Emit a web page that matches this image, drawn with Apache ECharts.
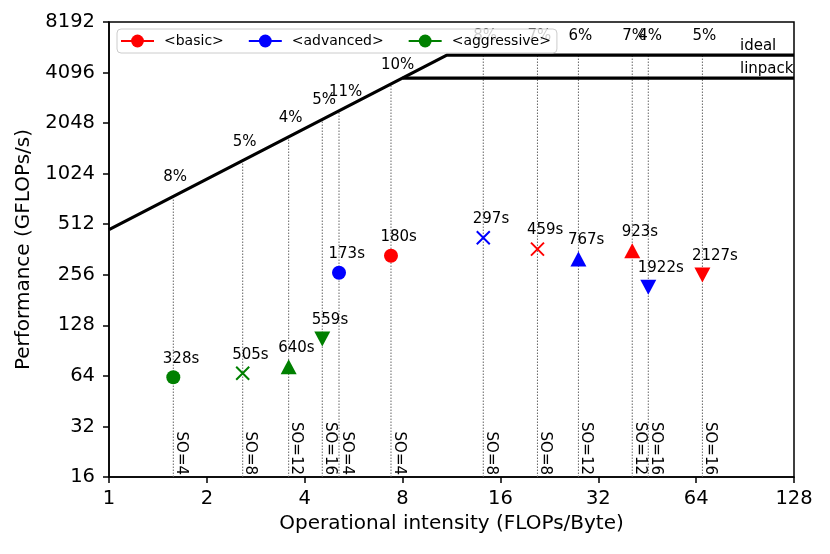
<!DOCTYPE html>
<html>
<head>
<meta charset="utf-8">
<script src="https://cdn.jsdelivr.net/npm/echarts@6/dist/echarts.min.js"></script>
<style>html,body{margin:0;padding:0;background:#fff;}#c{width:830px;height:554px;}</style>
</head>
<body>
<div id="c"></div>
<script>
// ---- data ----
const strategyNames = ['<basic>', '<advanced>', '<aggressive>'];
const strategyColors = ['#ff0000', '#0000ff', '#008000'];
const soLevels = [4, 8, 12, 16];
const soLabels = ['SO=4', 'SO=8', 'SO=12', 'SO=16'];

const basicOI = [7.37, 20.8, 40.7, 66.9];
const basicPerf = [332, 364, 356, 255];
const basicTime = ['180s', '459s', '923s', '2127s'];
const basicPct = ['10%', '7%', '7%', '5%'];

const advancedOI = [5.10, 14.17, 27.8, 45.6];
const advancedPerf = [263, 425, 318, 216];
const advancedTime = ['173s', '297s', '767s', '1922s'];
const advancedPct = ['11%', '8%', '6%', '4%'];

const aggressiveOI = [1.577, 2.578, 3.57, 4.53];
const aggressivePerf = [62.8, 66.3, 72.6, 106];
const aggressiveTime = ['328s', '505s', '640s', '559s'];
const aggressivePct = ['8%', '5%', '4%', '5%'];

const bandwidth = 475;     // GB/s
const peakIdeal = 5200;    // GFLOPs/s
const peakLinpack = 3800;  // GFLOPs/s
const roofLabels = ['ideal', 'linpack'];
const roofLabelOI = [87.3, 87.3];

const xTicks = [1, 2, 4, 8, 16, 32, 64, 128];
const yTicks = [16, 32, 64, 128, 256, 512, 1024, 2048, 4096, 8192];

// ---- build ----
const allOI = [basicOI, advancedOI, aggressiveOI];
const allPerf = [basicPerf, advancedPerf, aggressivePerf];
const allTime = [basicTime, advancedTime, aggressiveTime];
const allPct = [basicPct, advancedPct, aggressivePct];

function roof(x) { return Math.min(bandwidth * x, peakIdeal); }

const xPath = 'path://M0,0L10,10M10,0L0,10';
function symbolFor(i) {
  if (i === 0) return { symbol: 'circle', symbolSize: 14, symbolRotate: 0 };
  if (i === 1) return { symbol: xPath, symbolSize: 13, symbolRotate: 0 };
  if (i === 2) return { symbol: 'triangle', symbolSize: [16, 15], symbolRotate: 0 };
  return { symbol: 'triangle', symbolSize: [16, 15], symbolRotate: 180 };
}

const vData = [];
const pctData = [];
const soData = [];
allOI.forEach((arr, s) => {
  arr.forEach((x, i) => {
    vData.push([x, yTicks[0]], [x, roof(x)], [x, '-']);
    pctData.push({ value: [x, roof(x)], label: { formatter: allPct[s][i] } });
    soData.push({ value: [x, yTicks[0]], label: { formatter: soLabels[i] } });
  });
});

const txt = { color: '#000', fontSize: 15, fontFamily: 'DejaVu Sans', opacity: 1 };

const series = [];
series.push({
  type: 'line', silent: true, z: 1, symbol: 'none', data: vData, connectNulls: false,
  lineStyle: { color: '#666', width: 1, type: [1.5, 1.5] }
});
series.push({
  type: 'line', silent: true, z: 3, symbol: 'none',
  data: [[xTicks[0], bandwidth * xTicks[0]], [peakIdeal / bandwidth, peakIdeal], [xTicks[xTicks.length - 1], peakIdeal]],
  lineStyle: { color: '#000', width: 3.2 }
});
series.push({
  type: 'line', silent: true, z: 3, symbol: 'none',
  data: [[peakLinpack / bandwidth, peakLinpack], [xTicks[xTicks.length - 1], peakLinpack]],
  lineStyle: { color: '#000', width: 3.2 }
});
series.push({
  type: 'scatter', silent: true, z: 3, symbolSize: 0, clip: false, itemStyle: { opacity: 1 },
  data: [
    { value: [roofLabelOI[0], peakIdeal], label: { formatter: roofLabels[0] } },
    { value: [roofLabelOI[1], peakLinpack], label: { formatter: roofLabels[1] } }
  ],
  label: Object.assign({ show: true, position: 'inside', align: 'left', verticalAlign: 'middle', offset: [0, -9] }, txt)
});
series.push({
  type: 'scatter', silent: true, z: 2, symbolSize: 0, clip: false, data: pctData, itemStyle: { opacity: 1 },
  label: Object.assign({ show: true, position: 'inside', align: 'left', verticalAlign: 'middle', offset: [-10, -19] }, txt)
});
series.push({
  type: 'scatter', silent: true, z: 2, symbolSize: 0, clip: false, data: soData, itemStyle: { opacity: 1 },
  label: Object.assign({ show: true, position: 'inside', rotate: -90, align: 'right', verticalAlign: 'bottom', offset: [-2, 0] }, txt)
});

strategyNames.forEach((name, s) => {
  const data = allOI[s].map((x, i) => {
    const sym = symbolFor(i);
    const isX = i === 1;
    return Object.assign({
      value: [x, allPerf[s][i]],
      label: { formatter: allTime[s][i] },
      itemStyle: isX ? { color: strategyColors[s], borderColor: strategyColors[s], borderWidth: 2, opacity: 1 }
                     : { color: strategyColors[s], opacity: 1 }
    }, sym);
  });
  series.push({
    type: 'scatter', name: name + '_pts', z: 5, data: data, clip: false, itemStyle: { opacity: 1 },
    label: Object.assign({ show: true, position: 'inside', align: 'left', verticalAlign: 'middle', offset: [-10.5, -18.6] }, txt)
  });
  series.push({
    type: 'line', name: name, data: [], symbol: 'circle', symbolSize: 13,
    itemStyle: { color: strategyColors[s] }, lineStyle: { color: strategyColors[s], width: 3 }
  });
});

const chart = echarts.init(document.getElementById('c'), null, { renderer: 'canvas' });
chart.setOption({
  animation: false,
  backgroundColor: '#fff',
  textStyle: { fontFamily: 'DejaVu Sans' },
  grid: { left: 109, right: 36, top: 22, bottom: 77, show: true, borderColor: '#000', borderWidth: 1.5, backgroundColor: 'transparent' },
  legend: {
    data: strategyNames, left: 117, top: 29, orient: 'horizontal',
    itemWidth: 33, itemHeight: 16, itemGap: 24,
    padding: [5, 6, 5, 3],
    backgroundColor: 'rgba(255,255,255,0.8)', borderColor: '#ccc', borderWidth: 1, borderRadius: 4,
    textStyle: { fontSize: 14, color: '#000', fontFamily: 'DejaVu Sans', padding: [0, 0, 0, 5] }
  },
  xAxis: {
    type: 'log', logBase: 2, min: xTicks[0], max: xTicks[xTicks.length - 1], interval: 1,
    name: 'Operational intensity (FLOPs/Byte)', nameLocation: 'middle', nameGap: 36,
    nameTextStyle: { fontSize: 20, color: '#000', fontFamily: 'DejaVu Sans' },
    axisLine: { show: true, lineStyle: { color: '#000', width: 1.5 } },
    axisTick: { show: true, length: 6, lineStyle: { color: '#000', width: 1.5 } },
    axisLabel: { fontSize: 19.5, color: '#000', margin: 12, fontFamily: 'DejaVu Sans',
                 formatter: v => String(Math.round(v)) },
    splitLine: { show: false }, minorTick: { show: false }
  },
  yAxis: {
    type: 'log', logBase: 2, min: yTicks[0], max: yTicks[yTicks.length - 1], interval: 1,
    name: 'Performance (GFLOPs/s)', nameLocation: 'middle', nameGap: 75,
    nameTextStyle: { fontSize: 20, color: '#000', fontFamily: 'DejaVu Sans' },
    axisLine: { show: true, lineStyle: { color: '#000', width: 1.5 } },
    axisTick: { show: true, length: 6, lineStyle: { color: '#000', width: 1.5 } },
    axisLabel: { fontSize: 19.5, color: '#000', margin: 14, fontFamily: 'DejaVu Sans',
                 formatter: v => String(Math.round(v)) },
    splitLine: { show: false }, minorTick: { show: false }
  },
  series: series
});
</script>
</body>
</html>
